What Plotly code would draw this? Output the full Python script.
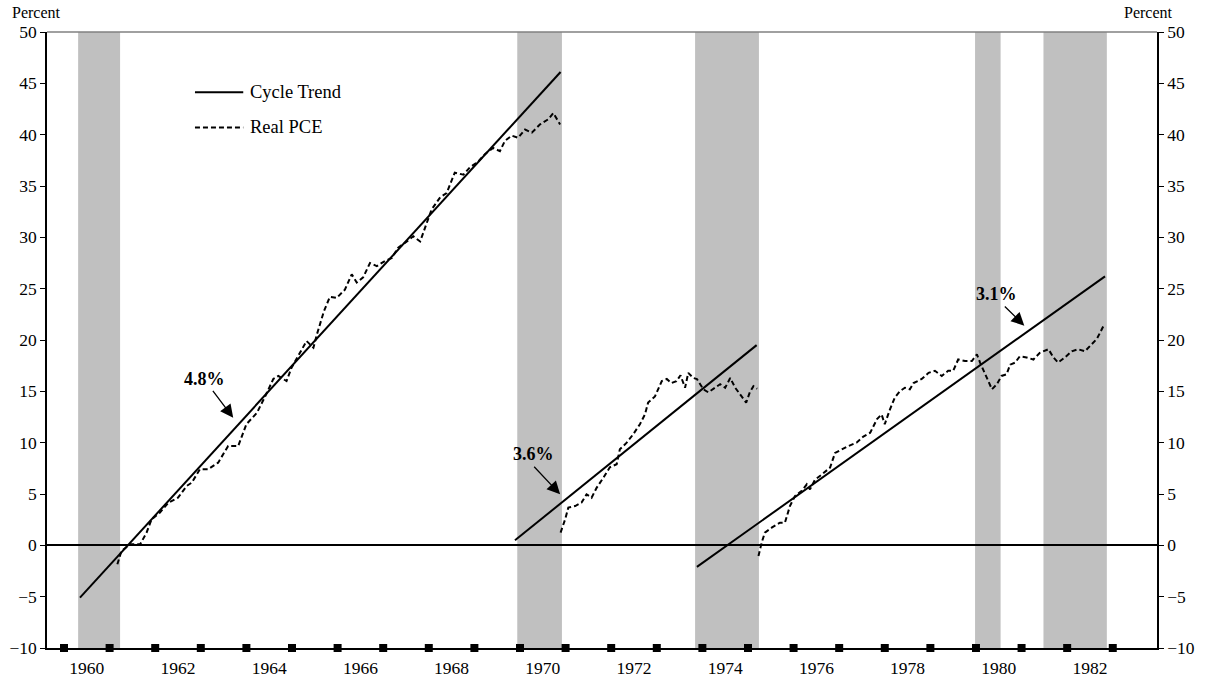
import plotly.graph_objects as go

# ---------------- data ----------------
rec_start = [1960.31, 1969.94, 1973.84, 1979.98, 1981.48]
rec_end = [1961.23, 1970.92, 1975.24, 1980.54, 1982.87]

trend1_t = [1960.35, 1970.89]
trend1_v = [-5.1, 46.1]
trend2_t = [1969.89, 1975.19]
trend2_v = [0.49, 19.5]
trend3_t = [1973.88, 1982.83]
trend3_v = [-2.1, 26.2]

pce1_t = [1961.17, 1961.26, 1961.45, 1961.67, 1961.81, 1961.92, 1962.10, 1962.29, 1962.50,
          1962.69, 1962.80, 1962.98, 1963.16, 1963.38, 1963.60, 1963.82, 1964.00, 1964.23,
          1964.41, 1964.59, 1964.70, 1964.88, 1964.99, 1965.18, 1965.32, 1965.47, 1965.55,
          1965.70, 1965.83, 1965.98, 1966.16, 1966.31, 1966.42, 1966.56, 1966.71, 1966.86,
          1967.04, 1967.19, 1967.33, 1967.52, 1967.66, 1967.81, 1967.95, 1968.06, 1968.25,
          1968.39, 1968.57, 1968.76, 1968.90, 1969.09, 1969.23, 1969.41, 1969.56, 1969.67,
          1969.82, 1969.96, 1970.11, 1970.26, 1970.44, 1970.62, 1970.73, 1970.88]
pce1_v = [-1.85, -0.55, 0.1, 0.1, 1.23, 2.53, 3.18, 4.15, 4.64,
          5.78, 6.1, 7.4, 7.4, 8.05, 9.67, 9.67, 11.8, 12.9,
          14.5, 16.2, 16.5, 16.0, 17.3, 18.8, 19.9, 19.25, 20.6,
          22.8, 24.2, 24.1, 24.9, 26.4, 25.6, 26.1, 27.5, 27.2,
          27.7, 28.0, 29.0, 29.6, 30.1, 29.6, 31.4, 32.7, 33.9,
          34.3, 36.3, 36.1, 36.8, 37.4, 38.1, 38.7, 38.4, 39.4,
          39.9, 39.7, 40.5, 40.2, 41.0, 41.5, 42.1, 41.0]

pce2_t = [1970.89, 1970.99, 1971.06, 1971.21, 1971.35, 1971.46, 1971.57, 1971.68, 1971.83,
          1971.97, 1972.12, 1972.19, 1972.34, 1972.48, 1972.63, 1972.74, 1972.81, 1972.96,
          1973.11, 1973.22, 1973.32, 1973.43, 1973.52, 1973.62, 1973.69, 1973.80, 1973.88,
          1974.02, 1974.13, 1974.28, 1974.39, 1974.50, 1974.61, 1974.72, 1974.82, 1974.96,
          1975.04, 1975.12, 1975.20]
pce2_v = [1.24, 2.53, 3.67, 3.83, 4.16, 4.97, 4.64, 5.6, 6.6,
          7.6, 7.9, 9.35, 10.0, 10.8, 11.8, 12.75, 13.9, 14.5,
          16.0, 16.2, 15.8, 16.0, 16.55, 15.35, 16.8, 16.3, 16.2,
          15.2, 14.9, 15.35, 15.7, 15.35, 16.3, 15.35, 14.7, 13.9,
          14.9, 15.5, 15.25]

pce3_t = [1975.23, 1975.30, 1975.37, 1975.52, 1975.70, 1975.81, 1975.92, 1976.03, 1976.18,
          1976.29, 1976.36, 1976.47, 1976.62, 1976.80, 1976.91, 1977.05, 1977.20, 1977.38,
          1977.53, 1977.68, 1977.83, 1977.93, 1978.00, 1978.11, 1978.22, 1978.33, 1978.44,
          1978.55, 1978.63, 1978.81, 1978.96, 1979.10, 1979.25, 1979.39, 1979.50, 1979.61,
          1979.76, 1979.91, 1980.02, 1980.09, 1980.20, 1980.27, 1980.35, 1980.46, 1980.56,
          1980.67, 1980.75, 1980.86, 1980.96, 1981.11, 1981.26, 1981.40, 1981.59, 1981.70,
          1981.80, 1981.95, 1982.10, 1982.24, 1982.39, 1982.54, 1982.65, 1982.72, 1982.81]
pce3_v = [-1.04, 0.26, 1.24, 1.72, 2.2, 2.2, 3.83, 4.8, 5.3,
          5.94, 5.45, 6.4, 6.9, 7.57, 9.0, 9.35, 9.67, 10.0,
          10.6, 10.97, 12.3, 12.75, 11.8, 13.2, 14.4, 15.0, 15.35,
          15.2, 15.8, 16.2, 16.8, 17.0, 16.5, 17.0, 17.0, 18.1,
          17.95, 17.95, 18.6, 17.8, 16.65, 16.0, 15.2, 15.7, 16.5,
          16.65, 17.6, 17.8, 18.4, 18.3, 18.1, 18.75, 19.1, 18.3,
          17.8, 18.3, 18.9, 19.1, 18.9, 19.6, 20.1, 20.7, 21.5]

year_marks = list(range(1960, 1985))
year_labels = [str(y) for y in range(1960, 1984, 2)]
label_pos = [y + 0.5 for y in range(1960, 1984, 2)]
y_ticks = list(range(-10, 51, 5))

ann_text = ["4.8%", "3.6%", "3.1%"]
ann_text_t = [1963.08, 1970.29, 1980.45]
ann_text_v = [16.2, 8.86, 24.5]
arrow_tail_t = [1963.24, 1970.28, 1980.60]
arrow_tail_v = [15.2, 7.8, 23.4]
arrow_head_t = [1963.71, 1970.88, 1981.06]
arrow_head_v = [12.43, 4.97, 21.4]

FONT = "Liberation Serif"
X_RANGE = [1959.627, 1983.97]
Y_RANGE = [-10, 50]

fig = go.Figure()

solid = dict(color="black", width=2)
dashed = dict(color="black", width=2, dash="5px,3px")

for tt, vv in [(trend1_t, trend1_v), (trend2_t, trend2_v), (trend3_t, trend3_v)]:
    fig.add_trace(go.Scatter(x=tt, y=vv, mode="lines", line=solid, showlegend=False,
                             hoverinfo="skip"))
for tt, vv in [(pce1_t, pce1_v), (pce2_t, pce2_v), (pce3_t, pce3_v)]:
    fig.add_trace(go.Scatter(x=tt, y=vv, mode="lines", line=dashed, showlegend=False,
                             hoverinfo="skip"))

fig.add_trace(go.Scatter(x=year_marks, y=[Y_RANGE[0]] * len(year_marks), mode="markers",
                         marker=dict(symbol="square", size=8, color="black"),
                         cliponaxis=False, showlegend=False, hoverinfo="skip", yaxis="y2"))

shapes = []
for s, e in zip(rec_start, rec_end):
    shapes.append(dict(type="rect", xref="x", yref="paper", x0=s, x1=e, y0=0, y1=1,
                       fillcolor="#C0C0C0", line=dict(width=0), layer="below"))
# top border
shapes.append(dict(type="line", xref="paper", yref="paper", x0=0, x1=1, y0=1, y1=1,
                   line=dict(color="#808080", width=1.5)))
# legend samples
shapes.append(dict(type="line", xref="paper", yref="paper", x0=0.1333, x1=0.1768,
                   y0=0.902, y1=0.902, line=dict(color="black", width=2)))
shapes.append(dict(type="line", xref="paper", yref="paper", x0=0.1333, x1=0.1768,
                   y0=0.845, y1=0.845, line=dict(color="black", width=2, dash="5px,3px")))

annotations = [
    dict(text="Cycle Trend", xref="paper", yref="paper", x=0.181, y=0.902, xanchor="left",
         yanchor="middle", showarrow=False, font=dict(family=FONT, size=18.5, color="black")),
    dict(text="Real PCE", xref="paper", yref="paper", x=0.181, y=0.845, xanchor="left",
         yanchor="middle", showarrow=False, font=dict(family=FONT, size=18.5, color="black")),
    dict(text="Percent", xref="paper", yref="paper", x=-0.0335, y=1.0, xanchor="left",
         yanchor="bottom", yshift=9, showarrow=False, font=dict(family=FONT, size=16, color="black")),
    dict(text="Percent", xref="paper", yref="paper", x=1.016, y=1.0, xanchor="right",
         yanchor="bottom", yshift=9, showarrow=False, font=dict(family=FONT, size=16, color="black")),
]
for txt, tx, ty, at, av, ht, hv in zip(ann_text, ann_text_t, ann_text_v, arrow_tail_t,
                                         arrow_tail_v, arrow_head_t, arrow_head_v):
    annotations.append(dict(text="<b>%s</b>" % txt, x=tx, y=ty, xref="x", yref="y",
                            showarrow=False, font=dict(family=FONT, size=18, color="black")))
    annotations.append(dict(text="", x=ht, y=hv, ax=at, ay=av, xref="x", yref="y",
                            axref="x", ayref="y", showarrow=True, arrowhead=2, arrowsize=2,
                            arrowwidth=1.3, arrowcolor="black", standoff=0, startstandoff=0))

axis_font = dict(family=FONT, size=17.5, color="black")
fig.update_layout(
    width=1210, height=685,
    margin=dict(l=47, r=53, t=32, b=37, autoexpand=False),
    paper_bgcolor="white", plot_bgcolor="white",
    font=dict(family=FONT, size=16, color="black"),
    shapes=shapes, annotations=annotations,
    xaxis=dict(range=X_RANGE, showgrid=False, zeroline=False, showline=True,
               linecolor="black", linewidth=1.5, ticks="", tickvals=label_pos,
               ticktext=year_labels, tickfont=axis_font, automargin=False,
               ticklabelstandoff=3),
    yaxis=dict(range=Y_RANGE, showgrid=False, zeroline=True, zerolinecolor="black",
               zerolinewidth=1.5, showline=True, linecolor="black", linewidth=1.5,
               ticks="outside", ticklen=5, tickcolor="black", tickvals=y_ticks,
               tickfont=axis_font, automargin=False),
    yaxis2=dict(range=Y_RANGE, overlaying="y", side="right", showgrid=False, zeroline=False,
                showline=True, linecolor="black", linewidth=1.5, ticks="outside", ticklen=5,
                tickcolor="black", tickvals=y_ticks, tickfont=axis_font, automargin=False),
)

fig.write_html("out.html")
